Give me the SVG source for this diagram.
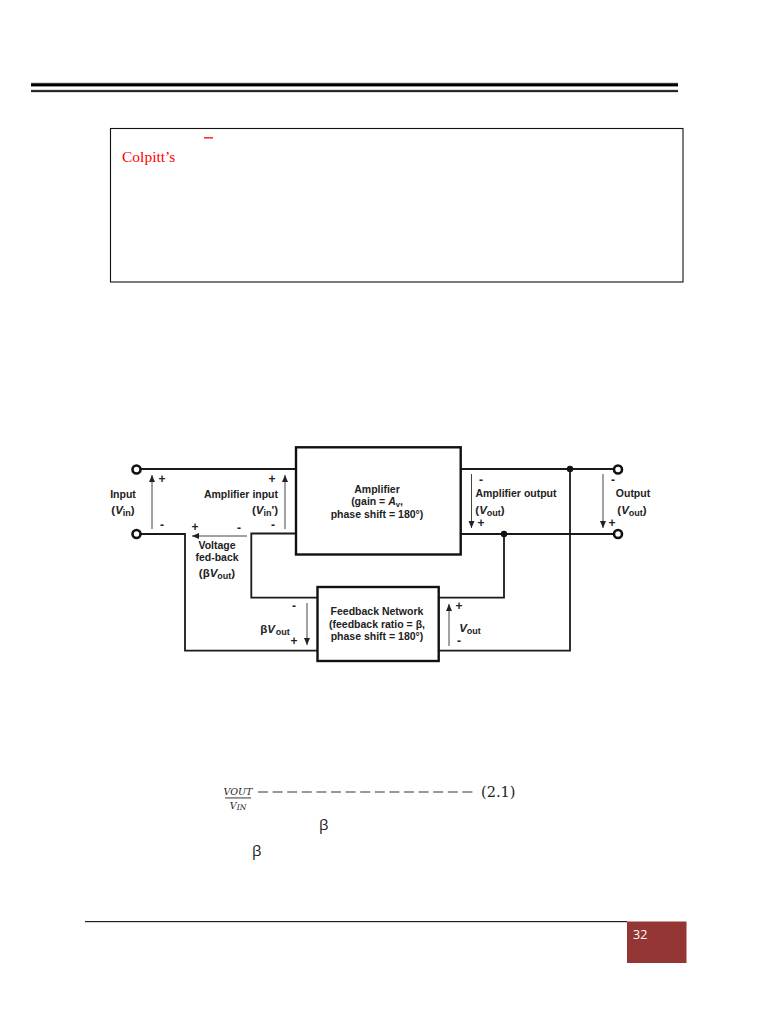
<svg xmlns="http://www.w3.org/2000/svg" width="768" height="1024" viewBox="0 0 768 1024">
<style>
.w{fill:none;stroke:#1a1a1a;stroke-width:1.8}
.b{fill:#fff;stroke:#111;stroke-width:2.4}
.t{fill:#fff;stroke:#111;stroke-width:2.6}
.a{fill:none;stroke:#444;stroke-width:1;marker-end:url(#ah)}
text{font-family:"Liberation Sans",Arial,sans-serif}
.l{font-size:10.5px;font-weight:bold;fill:#222;text-anchor:middle}
.s{font-size:9px}
.p{font-size:12px;font-weight:bold;fill:#222;text-anchor:middle}
.g{font-family:"Open Sans","DejaVu Sans",sans-serif;font-size:15px;fill:#222}
.m{font-family:"DejaVu Serif",serif;font-style:italic;font-size:9.5px;fill:#222;text-anchor:middle}
</style>
<defs>
<marker id="ah" markerUnits="userSpaceOnUse" markerWidth="8" markerHeight="8" refX="7" refY="3" orient="auto"><path d="M0 0L7 3L0 6Z" fill="#222"/></marker>
</defs>
<rect width="768" height="1024" fill="#fff"/>
<g id="header">
<rect x="31" y="82.5" width="647" height="4.5" fill="#bbb"/>
<rect x="31" y="83.3" width="647" height="2.9" fill="#000"/>
<rect x="31" y="89.5" width="647" height="3" fill="#bbb"/>
<rect x="31" y="90.2" width="647" height="1.7" fill="#111"/>
</g>
<g id="note">
<rect x="110.5" y="128.5" width="572.5" height="153.5" fill="#fff" stroke="#111" stroke-width="1.1"/>
<rect x="204" y="137.2" width="9" height="1.3" fill="#f00"/>
<text x="122" y="162" font-size="15.5" fill="#f00" style="font-family:'Liberation Serif',serif">Colpitt’s</text>
</g>
<g id="connectors">
<path class="w" d="M141 469H296M141 534H185V650.7H317M296 533.5H251.3V597.6H317"/>
<path class="w" d="M461 469H613M461 534H613M504 534V597.6H439M570 469V650.7H439"/>
<circle cx="570" cy="469" r="3.2" fill="#111"/>
<circle cx="504" cy="534" r="3.2" fill="#111"/>
<path class="a" d="M152 529V475"/>
<path class="a" d="M285 529V475"/>
<path class="a" d="M471.5 474V528"/>
<path class="a" d="M603 474V528"/>
<path class="a" d="M247 536H192"/>
<path class="a" d="M307 603V645"/>
<path class="a" d="M449 646V604"/>
</g>
<g id="terminals">
<circle class="t" cx="136.5" cy="469.5" r="4"/>
<circle class="t" cx="136.5" cy="534" r="4"/>
<circle class="t" cx="618" cy="469.5" r="4"/>
<circle class="t" cx="618" cy="534" r="4"/>
</g>
<g id="amplifier">
<rect class="b" x="296" y="447.3" width="164.7" height="107.2"/>
<text class="l" x="377" y="493">Amplifier</text>
<text class="l" x="377" y="505">(gain = <tspan font-style="italic">A</tspan><tspan style="font-size:7.5px" dy="2">v</tspan><tspan dy="-2">,</tspan></text>
<text class="l" x="377" y="518">phase shift = 180°)</text>
</g>
<g id="feedback">
<rect class="b" x="317.5" y="587" width="121.2" height="74"/>
<text class="l" x="377" y="615">Feedback Network</text>
<text class="l" x="377" y="628">(feedback ratio = β,</text>
<text class="l" x="377" y="640">phase shift = 180°)</text>
</g>
<g id="labels">
<text class="l" x="123" y="498">Input</text>
<text class="l" x="123" y="514" style="font-size:11.5px">(<tspan font-style="italic">V</tspan><tspan class="s" dy="2">in</tspan><tspan dy="-2">)</tspan></text>
<text class="l" x="241" y="498">Amplifier input</text>
<text class="l" x="265" y="514" style="font-size:11.5px">(<tspan font-style="italic">V</tspan><tspan class="s" dy="2">in</tspan><tspan dy="-2">')</tspan></text>
<text class="l" x="217" y="549">Voltage</text>
<text class="l" x="217" y="561">fed-back</text>
<text class="l" x="217" y="577" style="font-size:11.5px">(β<tspan font-style="italic">V</tspan><tspan class="s" dy="2">out</tspan><tspan dy="-2">)</tspan></text>
<text class="l" x="275" y="633" style="font-size:11.5px">β<tspan font-style="italic">V</tspan><tspan class="s" dx="1" dy="2">out</tspan></text>
<text class="l" x="516" y="497">Amplifier output</text>
<text class="l" x="490" y="514" style="font-size:11.5px">(<tspan font-style="italic">V</tspan><tspan class="s" dy="2">out</tspan><tspan dy="-2">)</tspan></text>
<text class="l" x="633" y="497">Output</text>
<text class="l" x="632" y="514" style="font-size:11.5px">(<tspan font-style="italic">V</tspan><tspan class="s" dy="2">out</tspan><tspan dy="-2">)</tspan></text>
<text class="l" x="470" y="632" style="font-size:11.5px"><tspan font-style="italic">V</tspan><tspan class="s" dy="2">out</tspan></text>
<text class="p" x="162" y="483">+</text><text class="p" x="162" y="529">-</text>
<text class="p" x="272" y="483">+</text><text class="p" x="273" y="529">-</text>
<text class="p" x="195" y="531">+</text><text class="p" x="239" y="532">-</text>
<text class="p" x="294" y="610">-</text><text class="p" x="294" y="645">+</text>
<text class="p" x="481" y="484">-</text><text class="p" x="481" y="527">+</text>
<text class="p" x="613" y="484">-</text><text class="p" x="612" y="527">+</text>
<text class="p" x="459" y="610">+</text><text class="p" x="459" y="645">-</text>
</g>
<g id="equation">
<text class="m" x="238" y="795">VOUT</text>
<rect x="225" y="797.5" width="26" height="0.9" fill="#222"/>
<text class="m" x="238" y="809">V<tspan font-size="7.5" dy="1">IN</tspan></text>
<line x1="258" y1="792" x2="477" y2="792" stroke="#333" stroke-width="1.2" stroke-dasharray="10 4.6"/>
<text x="481" y="797" font-size="14.5" fill="#222" style="font-family:'DejaVu Serif',serif">(2.1)</text>
<text class="g" x="319" y="830">β</text>
<text class="g" x="252" y="856">β</text>
</g>
<g id="footer">
<rect x="85" y="921" width="542" height="1.2" fill="#222"/>
<rect x="627" y="921.5" width="59.5" height="41.5" fill="#943634"/>
<text x="633" y="939" font-size="12.5" fill="#fff" style="font-family:'Open Sans',sans-serif">32</text>
</g>
</svg>
